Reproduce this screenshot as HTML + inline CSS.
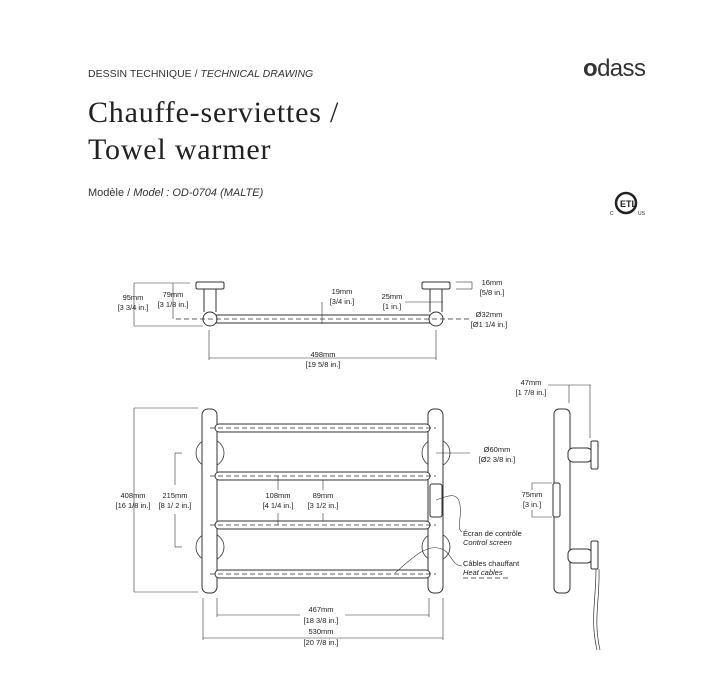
<!DOCTYPE html>
<html><head><meta charset="utf-8"><style>
body{margin:0;background:#fff;width:709px;height:700px;overflow:hidden;position:relative;font-family:"Liberation Sans",sans-serif;color:#222}
.t{position:absolute;white-space:nowrap}
</style></head><body>
<div class="t" style="left:88px;top:68px;font-size:10.5px;color:#333">DESSIN TECHNIQUE / <i>TECHNICAL DRAWING</i></div>
<div class="t" style="left:88px;top:94px;font-family:'Liberation Serif',serif;font-size:30px;letter-spacing:0.8px;line-height:37px;color:#222">Chauffe-serviettes /<br>Towel warmer</div>
<div class="t" style="left:88px;top:187px;font-size:11px;color:#333">Modèle / <i>Model : OD-0704 (MALTE)</i></div>
<div class="t" style="left:583px;top:55px;font-size:24px;letter-spacing:-0.6px;color:#333"><b>o</b>dass</div>
<svg width="709" height="700" style="position:absolute;left:0;top:0" font-family="Liberation Sans, sans-serif" font-size="7.5" fill="none" stroke="#333">
<!-- ETL -->
<g transform="translate(626,203)" stroke="#222"><circle r="10" stroke-width="2.5"/><text x="-6" y="4" font-size="9" font-weight="bold" fill="#222" stroke="none">ETL</text><text x="-16" y="12" font-size="5" fill="#222" stroke="none">C</text><text x="12" y="12" font-size="5" fill="#222" stroke="none">US</text></g>
<g stroke-width="1">
<!-- TOP VIEW -->
<rect x="196" y="282" width="28" height="7" rx="1.5"/><rect x="422" y="282" width="28" height="7" rx="1.5"/>
<line x1="204" y1="289" x2="204" y2="312"/><line x1="216" y1="289" x2="216" y2="312"/>
<line x1="430" y1="289" x2="430" y2="312"/><line x1="442" y1="289" x2="442" y2="312"/>
<line x1="215" y1="315" x2="431" y2="315"/><line x1="215" y1="323" x2="431" y2="323"/>
<circle cx="210" cy="319" r="7" fill="#fff"/><circle cx="436" cy="319" r="7" fill="#fff"/>
<line x1="176" y1="319" x2="470" y2="319" stroke-dasharray="5 3" stroke-width="0.7"/>
<g stroke-width="0.6">
<line x1="134" y1="283" x2="134" y2="326"/><line x1="134" y1="283" x2="190" y2="283"/><line x1="134" y1="326" x2="203" y2="326"/>
<line x1="173" y1="283" x2="173" y2="319"/>
<line x1="322" y1="302" x2="322" y2="324"/>
<line x1="405" y1="302" x2="443" y2="302"/><line x1="430" y1="298" x2="430" y2="305"/><line x1="442" y1="298" x2="442" y2="305"/>
<line x1="456" y1="282" x2="472" y2="282"/><line x1="456" y1="289" x2="472" y2="289"/><line x1="472" y1="282" x2="472" y2="289"/>
<line x1="209" y1="330" x2="209" y2="360"/><line x1="436" y1="330" x2="436" y2="360"/><line x1="209" y1="358" x2="436" y2="358"/>
</g>
<!-- FRONT VIEW -->
<g stroke-width="0.8">
<circle cx="210" cy="453" r="14"/><circle cx="210" cy="547" r="14"/>
<circle cx="436" cy="453" r="14"/><circle cx="436" cy="547" r="14"/>
</g>
<rect x="202" y="409" width="15" height="184" rx="6" fill="#fff"/>
<rect x="428" y="409" width="15" height="184" rx="6" fill="#fff"/>
<g fill="#fff">
<rect x="215" y="424" width="215" height="8" rx="4"/><rect x="215" y="472" width="215" height="8" rx="4"/>
<rect x="215" y="521" width="215" height="8" rx="4"/><rect x="215" y="570" width="215" height="8" rx="4"/>
</g>
<g stroke-dasharray="5 3" stroke-width="0.7">
<line x1="210" y1="428" x2="436" y2="428"/><line x1="210" y1="476" x2="436" y2="476"/>
<line x1="210" y1="525" x2="436" y2="525"/><line x1="210" y1="574" x2="436" y2="574"/>
<line x1="463" y1="578" x2="510" y2="578"/>
</g>
<rect x="430" y="484" width="12" height="33" rx="2" fill="#fff"/>
<path d="M436,500 C450,495 458,492 460,505 C462,520 456,528 462,532" stroke-width="0.6"/>
<path d="M395,573 C410,560 425,545 438,548 C452,550 450,565 462,566" stroke-width="0.6"/>
<g stroke-width="0.6">
<line x1="134" y1="408" x2="134" y2="592"/><line x1="134" y1="408" x2="198" y2="408"/><line x1="134" y1="592" x2="198" y2="592"/>
<line x1="175" y1="453" x2="175" y2="485"/><line x1="175" y1="514" x2="175" y2="547"/><line x1="175" y1="453" x2="182" y2="453"/><line x1="175" y1="547" x2="182" y2="547"/>
<line x1="278" y1="476" x2="278" y2="490"/><line x1="278" y1="513" x2="278" y2="525"/>
<line x1="323" y1="480" x2="323" y2="490"/><line x1="323" y1="513" x2="323" y2="521"/>
<line x1="436" y1="453" x2="470" y2="453"/>
<line x1="217" y1="598" x2="217" y2="617"/><line x1="429" y1="598" x2="429" y2="617"/><line x1="217" y1="615" x2="300" y2="615"/><line x1="345" y1="615" x2="429" y2="615"/>
<line x1="203" y1="598" x2="203" y2="640"/><line x1="443" y1="598" x2="443" y2="640"/><line x1="203" y1="638" x2="443" y2="638"/>
</g>
<!-- SIDE VIEW -->
<rect x="554" y="409" width="16" height="184" rx="5"/>
<rect x="568" y="448" width="24" height="14" rx="5" fill="#fff"/><rect x="591" y="441" width="7" height="28" rx="1.5" fill="#fff"/>
<rect x="568" y="549" width="24" height="14" rx="5" fill="#fff"/><rect x="591" y="541" width="7" height="28" rx="1.5" fill="#fff"/>
<rect x="553" y="483" width="7" height="34" rx="2" fill="#fff"/>
<path d="M596,569 C596,600 590,620 597,650 M599,569 C600,600 593,620 600,650" stroke-width="0.7"/>
<g stroke-width="0.6">
<line x1="548" y1="385" x2="591" y2="385"/><line x1="569" y1="385" x2="569" y2="403"/><line x1="590" y1="385" x2="590" y2="438"/>
<line x1="532" y1="483" x2="552" y2="483"/><line x1="532" y1="517" x2="552" y2="517"/><line x1="532" y1="483" x2="532" y2="490"/><line x1="532" y1="510" x2="532" y2="517"/>
</g>
</g>
<g fill="#222" stroke="none" text-anchor="middle">
<text x="133" y="300">95mm</text><text x="133" y="310">[3 3/4 in.]</text>
<text x="173" y="297">79mm</text><text x="173" y="307">[3 1/8 in.]</text>
<text x="342" y="294">19mm</text><text x="342" y="304">[3/4 in.]</text>
<text x="392" y="299">25mm</text><text x="392" y="309">[1 in.]</text>
<text x="492" y="285">16mm</text><text x="492" y="295">[5/8 in.]</text>
<text x="489" y="317">Ø32mm</text><text x="489" y="327">[Ø1 1/4 in.]</text>
<text x="323" y="357">498mm</text><text x="323" y="367">[19 5/8 in.]</text>
<text x="133" y="498">408mm</text><text x="133" y="508">[16 1/8 in.]</text>
<text x="175" y="498">215mm</text><text x="175" y="508">[8 1/ 2 in.]</text>
<text x="278" y="498">108mm</text><text x="278" y="508">[4 1/4 in.]</text>
<text x="323" y="498">89mm</text><text x="323" y="508">[3 1/2 in.]</text>
<text x="497" y="452">Ø60mm</text><text x="497" y="462">[Ø2 3/8 in.]</text>
<text x="321" y="612">467mm</text><text x="321" y="623">[18 3/8 in.]</text>
<text x="321" y="634">530mm</text><text x="321" y="645">[20 7/8 in.]</text>
<text x="531" y="385">47mm</text><text x="531" y="395">[1 7/8 in.]</text>
<text x="532" y="497">75mm</text><text x="532" y="507">[3 in.]</text>
<g text-anchor="start"><text x="463" y="536">Écran de contrôle</text><text x="463" y="545" font-style="italic">Control screen</text>
<text x="463" y="566">Câbles chauffant</text><text x="463" y="575" font-style="italic">Heat cables</text></g>
</g>
</svg>
</body></html>
